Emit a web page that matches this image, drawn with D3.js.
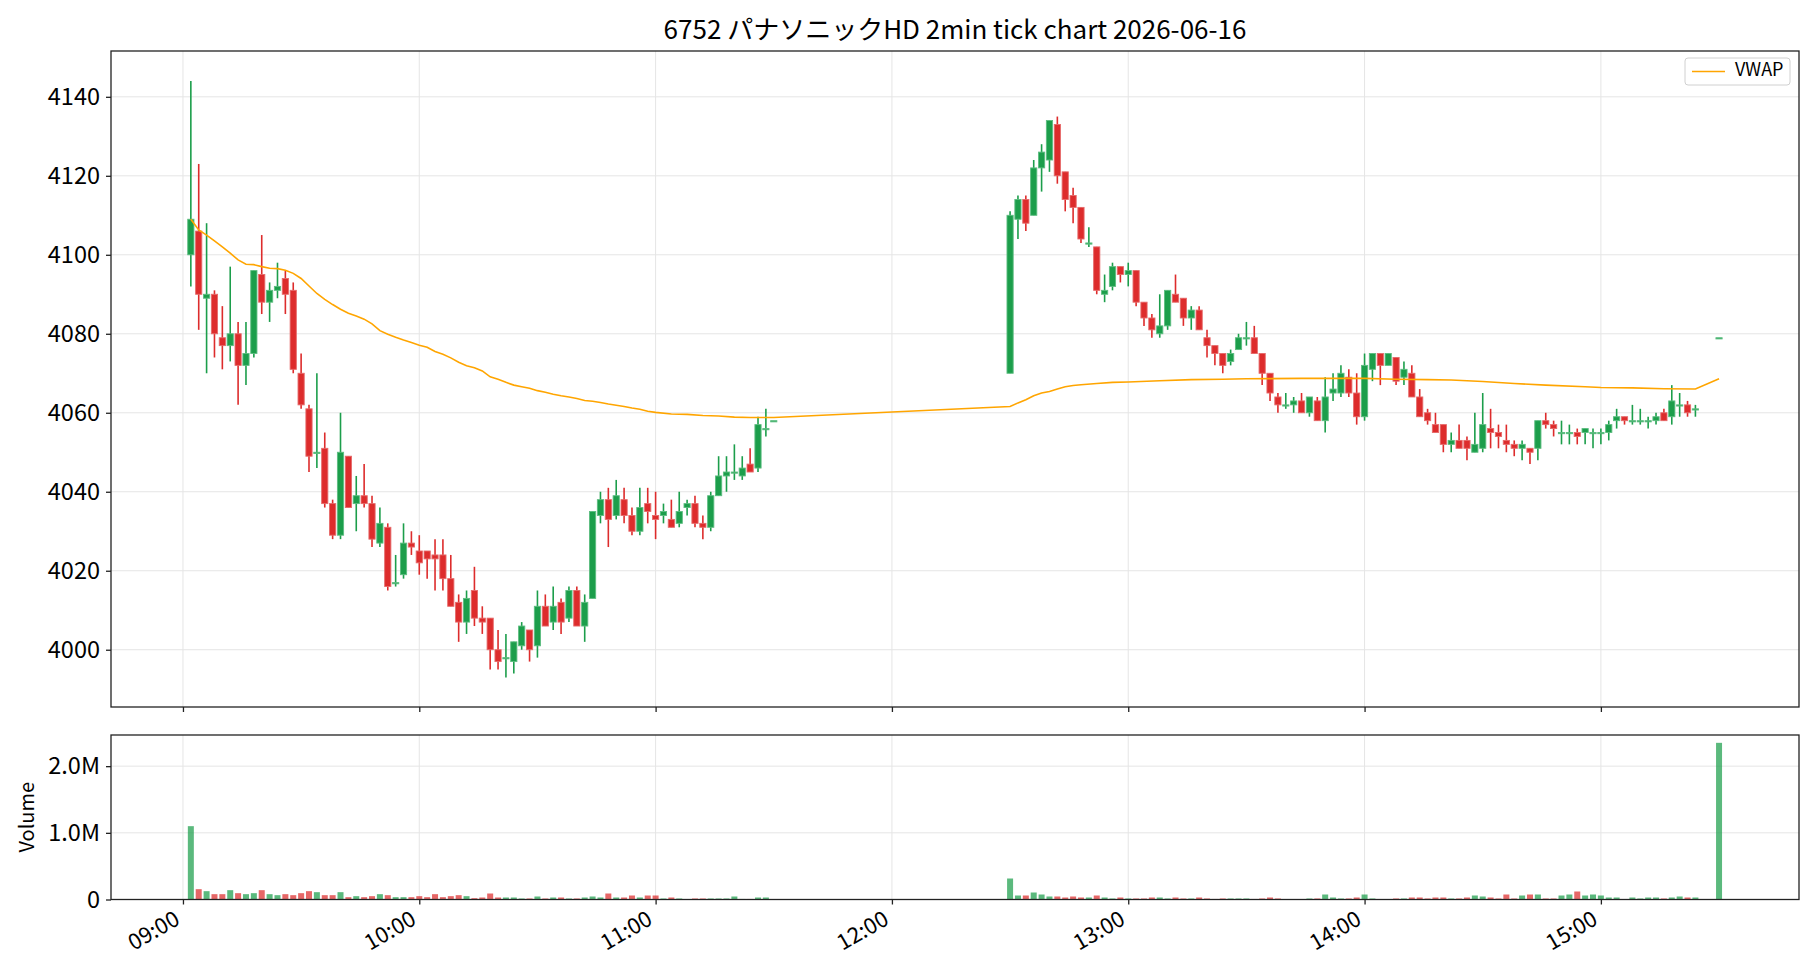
<!DOCTYPE html>
<html>
<head>
<meta charset="utf-8">
<script src="https://cdn.jsdelivr.net/npm/d3@7"></script>
<style>
  body { margin: 0; background: #fff; }
  svg { display: block; }
  text { font-family: "Noto Sans CJK JP", "Noto Sans", sans-serif; fill: #000; }
</style>
</head>
<body>
<svg id="chart" width="1820" height="980"></svg>
<script>
// bar times (2 min bars, morning + afternoon session + closing auction)
const barTimes = [
  "09:02","09:04","09:06","09:08","09:10","09:12","09:14","09:16","09:18","09:20","09:22","09:24","09:26","09:28","09:30",
  "09:32","09:34","09:36","09:38","09:40","09:42","09:44","09:46","09:48","09:50","09:52","09:54","09:56","09:58",
  "10:00","10:02","10:04","10:06","10:08","10:10","10:12","10:14","10:16","10:18","10:20","10:22","10:24","10:26","10:28",
  "10:30","10:32","10:34","10:36","10:38","10:40","10:42","10:44","10:46","10:48","10:50","10:52","10:54","10:56","10:58",
  "11:00","11:02","11:04","11:06","11:08","11:10","11:12","11:14","11:16","11:18","11:20","11:22","11:24","11:26","11:28","11:30",
  "12:30","12:32","12:34","12:36","12:38","12:40","12:42","12:44","12:46","12:48","12:50","12:52","12:54","12:56","12:58",
  "13:00","13:02","13:04","13:06","13:08","13:10","13:12","13:14","13:16","13:18","13:20","13:22","13:24","13:26","13:28",
  "13:30","13:32","13:34","13:36","13:38","13:40","13:42","13:44","13:46","13:48","13:50","13:52","13:54","13:56","13:58",
  "14:00","14:02","14:04","14:06","14:08","14:10","14:12","14:14","14:16","14:18","14:20","14:22","14:24","14:26","14:28",
  "14:30","14:32","14:34","14:36","14:38","14:40","14:42","14:44","14:46","14:48","14:50","14:52","14:54","14:56","14:58",
  "15:00","15:02","15:04","15:06","15:08","15:10","15:12","15:14","15:16","15:18","15:20","15:22","15:24","15:30"
];

const opens = [
  4100,4106,4089,4090,4079,4077,4080,4072,4075,4095,4088,4091,4094,4091,4070,
  4061,4050,4051,4037,4029,4049,4037,4039,4037,4027,4031,4017,4019,4027,
  4025,4025,4024,4024,4018,4012,4007,4015,4008,4008,4000,3998,3997,4001,4005,
  4001,4011,4007,4012,4008,4015,4006,4013,4034,4038,4034,4038,4034,4030,4037,
  4034,4034,4033,4032,4036,4037,4032,4031,4039,4044,4045,4044,4047,4046,4056,4058,
  4070,4109,4114,4110,4122,4124,4133,4121,4115,4112,4103,4102,4090,4092,4097,
  4095,4096,4088,4084,4080,4082,4090,4089,4084,4086,4079,4077,4075,4073,4076,
  4079,4079,4075,4070,4064,4062,4062,4063,4060,4063,4058,4065,4065,4069,4065,
  4059,4071,4075,4072,4074,4069,4070,4064,4060,4057,4057,4052,4053,4053,4050,
  4051,4056,4055,4053,4052,4051,4051,4051,4058,4057,4055,4055,4055,4055,4055,
  4055,4055,4058,4059,4058,4058,4058,4058,4060,4059,4062,4062,4061,4079
];
const highs = [
  4144,4123,4108,4091,4087,4097,4083,4083,4096,4105,4093,4098,4096,4093,4075,
  4062,4070,4055,4038,4060,4049,4044,4047,4039,4036,4032,4024,4032,4030,
  4029,4025,4028,4028,4024,4014,4015,4021,4011,4008,4005,4004,4002,4007,4005,
  4015,4014,4016,4013,4016,4016,4014,4035,4040,4041,4043,4041,4036,4041,4041,
  4040,4037,4038,4040,4038,4039,4034,4040,4049,4049,4052,4049,4051,4059,4061,4058,
  4111,4115,4115,4124,4128,4134,4135,4121,4117,4112,4107,4102,4095,4098,4097,
  4098,4096,4088,4085,4090,4091,4095,4089,4087,4087,4081,4077,4075,4076,4080,
  4083,4082,4075,4070,4065,4065,4064,4065,4064,4064,4069,4070,4072,4071,4070,
  4075,4075,4075,4075,4074,4073,4072,4066,4061,4060,4057,4055,4057,4054,4060,
  4065,4061,4057,4057,4053,4053,4051,4058,4060,4058,4058,4057,4056,4056,4056,
  4056,4058,4061,4059,4062,4061,4059,4060,4061,4067,4065,4063,4062,4079
];
const lows = [
  4092,4081,4070,4074,4071,4073,4062,4067,4074,4085,4083,4089,4085,4070,4061,
  4045,4046,4036,4028,4028,4036,4030,4036,4026,4026,4015,4016,4018,4024,
  4019,4018,4015,4015,4011,4002,4004,4006,4004,3995,3995,3993,3994,4000,3997,
  3998,4006,4005,4004,4007,4006,4002,4013,4032,4026,4033,4032,4029,4029,4032,
  4028,4032,4031,4031,4034,4031,4028,4030,4039,4040,4043,4043,4045,4045,4054,4058,
  4070,4104,4106,4110,4116,4121,4118,4111,4108,4103,4102,4090,4088,4091,4093,
  4092,4087,4082,4079,4079,4081,4088,4082,4081,4081,4074,4072,4070,4072,4076,
  4077,4075,4067,4063,4060,4061,4060,4060,4059,4058,4055,4063,4064,4064,4057,
  4058,4068,4067,4072,4067,4067,4064,4059,4057,4055,4050,4050,4051,4048,4050,
  4050,4051,4051,4050,4049,4048,4047,4048,4056,4054,4052,4052,4052,4052,4051,
  4052,4053,4056,4057,4057,4057,4056,4057,4058,4057,4059,4059,4059,4079
];
const closes = [
  4109,4090,4090,4080,4077,4080,4072,4075,4096,4088,4091,4092,4090,4071,4062,
  4049,4050,4037,4029,4050,4036,4039,4037,4028,4032,4016,4017,4027,4026,
  4022,4023,4023,4018,4011,4007,4013,4008,4007,4000,3997,3998,4002,4006,4000,
  4011,4006,4011,4007,4015,4006,4012,4035,4038,4033,4039,4034,4030,4036,4035,
  4033,4035,4031,4035,4037,4032,4031,4039,4044,4045,4045,4046,4045,4057,4056,4058,
  4110,4114,4108,4122,4126,4134,4120,4114,4112,4104,4103,4091,4091,4097,4095,
  4096,4088,4084,4081,4082,4091,4088,4084,4086,4081,4077,4075,4072,4075,4079,
  4079,4075,4070,4065,4062,4062,4063,4060,4064,4058,4064,4066,4070,4065,4059,
  4072,4075,4072,4075,4068,4071,4064,4059,4058,4055,4052,4053,4051,4051,4052,
  4057,4055,4054,4052,4051,4052,4050,4058,4057,4056,4055,4055,4054,4056,4055,
  4055,4057,4059,4058,4058,4058,4058,4059,4058,4063,4062,4060,4061,4079
];
// volume in shares
const volumes = [
  1100000,155000,125000,80000,80000,140000,95000,80000,95000,140000,80000,65000,80000,65000,95000,
  125000,110000,65000,65000,110000,35000,50000,35000,50000,80000,65000,35000,35000,35000,
  50000,35000,80000,35000,50000,65000,50000,20000,30000,90000,30000,30000,30000,15000,15000,
  45000,15000,30000,30000,15000,15000,30000,45000,30000,90000,30000,30000,60000,30000,60000,
  60000,15000,30000,15000,5000,15000,15000,15000,15000,15000,45000,8000,8000,30000,30000,5000,
  315000,60000,60000,105000,75000,45000,45000,30000,45000,30000,30000,60000,30000,15000,30000,
  15000,15000,15000,30000,30000,15000,30000,15000,15000,30000,15000,8000,15000,15000,15000,
  15000,8000,15000,30000,15000,5000,5000,5000,15000,15000,75000,30000,15000,15000,30000,
  75000,15000,5000,5000,15000,15000,30000,30000,15000,30000,30000,15000,15000,30000,60000,
  45000,30000,15000,75000,15000,60000,75000,75000,15000,15000,60000,75000,120000,60000,75000,
  60000,30000,30000,5000,30000,15000,30000,30000,15000,30000,45000,30000,30000,2350000
];

// VWAP
const vwapTimes = [
  "09:02","09:04","09:06","09:08","09:10","09:12","09:14","09:16","09:18","09:20","09:22","09:24","09:26","09:28","09:30",
  "09:32","09:34","09:36","09:38","09:40","09:42","09:44","09:46","09:48","09:50","09:52","09:54","09:56","09:58",
  "10:00","10:02","10:04","10:06","10:08","10:10","10:12","10:14","10:16","10:18","10:20","10:22","10:24","10:26","10:28",
  "10:30","10:32","10:34","10:36","10:38","10:40","10:42","10:44","10:46","10:48","10:50","10:52","10:54","10:56","10:58",
  "11:00","11:04","11:08","11:12","11:16","11:20","11:24","11:28","11:30",
  "12:30","12:32","12:34","12:36","12:38","12:40","12:42","12:44","12:46","12:48","12:52","12:56","13:00","13:08","13:16",
  "13:24","13:30","13:44","14:00","14:08","14:16","14:22","14:30","14:38","14:46","14:56","15:00","15:08","15:16","15:24","15:30"
];
const vwapValues = [
  4109,4106.3,4105,4103.5,4102,4100.4,4098.7,4097.6,4097.5,4097,4096.6,4096.5,4096.1,4095.3,4094,
  4092.1,4090.2,4088.7,4087.4,4086.2,4085.2,4084.5,4083.7,4082.5,4080.8,4079.9,4079.1,4078.4,4077.8,
  4077.1,4076.6,4075.5,4074.8,4073.9,4072.8,4071.9,4071.4,4070.6,4069.1,4068.5,4067.7,4067,4066.6,4066.2,
  4065.6,4065.2,4064.7,4064.3,4064,4063.6,4063.1,4062.9,4062.6,4062.2,4061.9,4061.6,4061.2,4060.9,4060.4,
  4060.1,4059.7,4059.6,4059.3,4059.2,4058.9,4058.8,4058.8,4058.8,
  4061.6,4062.5,4063.3,4064.3,4065,4065.4,4066,4066.6,4066.9,4067.1,4067.4,4067.7,4067.8,4068.1,4068.4,
  4068.5,4068.6,4068.7,4068.7,4068.5,4068.4,4068.3,4067.9,4067.4,4067,4066.6,4066.4,4066.3,4066.1,4066,4068.6
];

const priceTicks = [4000, 4020, 4040, 4060, 4080, 4100, 4120, 4140];
const volumeTicks = [0, 1000000, 2000000];
const hourTicks = ["09:00","10:00","11:00","12:00","13:00","14:00","15:00"];
const titleText = "6752 パナソニックHD 2min tick chart 2026-06-16";

const svg = d3.select("#chart");
const upColor = "#1c9e4b", downColor = "#dd2c2c";
const upEdge = "#5dbd80", downEdge = "#e66a6a";

const parseT = d3.timeParse("%Y-%m-%d %H:%M");
const toDate = s => parseT("2026-06-16 " + s);
const minutesFrom = (s, m) => new Date(toDate(s).getTime() + m * 60000);

const bars = barTimes.map((t, i) => ({
  t: toDate(t), o: opens[i], h: highs[i], l: lows[i], c: closes[i], v: volumes[i]
}));

// panel frames
const left = 111, right = 1799;
const mainTop = 51, mainBottom = 707;
const volTop = 735, volBottom = 899.5;

// 09:00 sits at ~183px, 15:00 at ~1601px
const x = d3.scaleTime()
  .domain([minutesFrom("09:00", -18.27), minutesFrom("09:00", 410.3)])
  .range([left, right]);

const y = d3.scaleLinear().domain([3985.5, 4151.6]).range([mainBottom, mainTop]);
const yv = d3.scaleLinear().domain([0, 2467500]).range([volBottom, volTop]);

const hourDates = hourTicks.map(toDate);

// grids
function grid(g, top, bottom, yScale, yTicks) {
  g.selectAll(".vg").data(hourDates).enter().append("line")
    .attr("x1", d => x(d)).attr("x2", d => x(d))
    .attr("y1", top).attr("y2", bottom)
    .attr("stroke", "#e5e5e5").attr("stroke-width", 1);
  g.selectAll(".hg").data(yTicks).enter().append("line")
    .attr("x1", left).attr("x2", right)
    .attr("y1", d => yScale(d)).attr("y2", d => yScale(d))
    .attr("stroke", "#e5e5e5").attr("stroke-width", 1);
}
grid(svg.append("g"), mainTop, mainBottom, y, priceTicks);
grid(svg.append("g"), volTop, volBottom, yv, volumeTicks);

// candles
const bodyW = 6.2;
const candle = svg.append("g").selectAll("g.candle").data(bars).enter()
  .append("g").attr("class", "candle");
candle.append("line")
  .attr("x1", d => x(d.t)).attr("x2", d => x(d.t))
  .attr("y1", d => y(d.h)).attr("y2", d => y(d.l))
  .attr("stroke", d => d.c >= d.o ? upColor : downColor)
  .attr("stroke-width", 1.6);
candle.append("rect")
  .attr("x", d => x(d.t) - bodyW / 2)
  .attr("width", bodyW)
  .attr("y", d => y(Math.max(d.o, d.c)))
  .attr("height", d => Math.max(1.2, Math.abs(y(d.o) - y(d.c))))
  .attr("fill", d => d.c >= d.o ? upColor : downColor)
  .attr("stroke", d => d.c >= d.o ? upEdge : downEdge)
  .attr("stroke-width", 0.9);

// VWAP line
const vwapData = vwapTimes.map((t, i) => ({ t: toDate(t), v: vwapValues[i] }));
svg.append("path")
  .datum(vwapData)
  .attr("fill", "none")
  .attr("stroke", "#ffa500")
  .attr("stroke-width", 1.6)
  .attr("d", d3.line().x(d => x(d.t)).y(d => y(d.v)));

// volume bars
svg.append("g").selectAll("rect").data(bars).enter().append("rect")
  .attr("x", d => x(d.t) - 3)
  .attr("width", 6)
  .attr("y", d => yv(d.v))
  .attr("height", d => volBottom - yv(d.v))
  .attr("fill", d => d.c >= d.o ? upColor : downColor)
  .attr("fill-opacity", 0.72);

// spines
[[mainTop, mainBottom], [volTop, volBottom]].forEach(([t, b]) => {
  svg.append("rect").attr("x", left).attr("y", t)
    .attr("width", right - left).attr("height", b - t)
    .attr("fill", "none").attr("stroke", "#222").attr("stroke-width", 1.3);
});

// axes
const tickFs = 22, yTickFs = 23.5;
const yAxisMain = svg.append("g").attr("transform", `translate(${left},0)`)
  .call(d3.axisLeft(y).tickValues(priceTicks).tickSize(5).tickPadding(6).tickFormat(d3.format("d")));
const yAxisVol = svg.append("g").attr("transform", `translate(${left},0)`)
  .call(d3.axisLeft(yv).tickValues(volumeTicks).tickSize(5).tickPadding(6)
    .tickFormat(d => d === 0 ? "0" : (d / 1e6).toFixed(1) + "M"));
const xAxisMain = svg.append("g").attr("transform", `translate(0,${mainBottom})`)
  .call(d3.axisBottom(x).tickValues(hourDates).tickSize(5).tickFormat(""));
const xAxisVol = svg.append("g").attr("transform", `translate(0,${volBottom})`)
  .call(d3.axisBottom(x).tickValues(hourDates).tickSize(5).tickFormat(d3.timeFormat("%H:%M")));

[yAxisMain, yAxisVol, xAxisMain, xAxisVol].forEach(a => {
  a.select(".domain").remove();
  a.selectAll(".tick line").attr("stroke", "#222").attr("stroke-width", 1.3);
  a.selectAll("text").attr("fill", "#000");
});
[yAxisMain, yAxisVol].forEach(a => a.selectAll("text").style("font-size", yTickFs + "px"));
xAxisVol.selectAll("text").style("font-size", tickFs + "px");

// rotated labels: right edge on the tick, top just under the tick mark
xAxisVol.selectAll("text")
  .attr("x", 0).attr("y", 0).attr("dy", 0)
  .attr("transform", `translate(${-0.1 * tickFs},${9 + 0.68 * tickFs}) rotate(-30)`)
  .style("text-anchor", "end");

// y label
svg.append("text")
  .attr("transform", `translate(29,${(volTop + volBottom) / 2}) rotate(-90)`)
  .attr("text-anchor", "middle")
  .attr("dominant-baseline", "middle")
  .style("font-size", "20px")
  .text("Volume");

// title
svg.append("text")
  .attr("x", (left + right) / 2)
  .attr("y", 39)
  .attr("text-anchor", "middle")
  .style("font-size", "26px")
  .text(titleText);

// legend
const legend = svg.append("g").attr("transform", "translate(1685,58)");
legend.append("rect").attr("width", 105).attr("height", 27).attr("rx", 3)
  .attr("fill", "#fff").attr("fill-opacity", 0.8).attr("stroke", "#d0d0d0");
legend.append("line").attr("x1", 7).attr("x2", 40).attr("y1", 13.5).attr("y2", 13.5)
  .attr("stroke", "#ffa500").attr("stroke-width", 1.6);
legend.append("text").attr("x", 50).attr("y", 13.5)
  .attr("dominant-baseline", "middle")
  .style("font-size", "18px").text("VWAP");
</script>
</body>
</html>
